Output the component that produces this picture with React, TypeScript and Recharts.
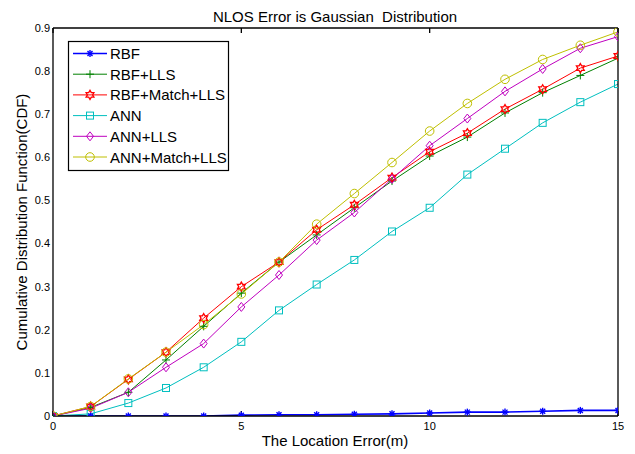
import React from 'react';
import { LineChart, Line, XAxis, YAxis } from 'recharts';

const errors = [0, 1, 2, 3, 4, 5, 6, 7, 8, 9, 10, 11, 12, 13, 14, 15];
const rbf = [0, 0, 0, 0, 0, 0.002, 0.003, 0.003, 0.004, 0.005, 0.007, 0.009, 0.009, 0.011, 0.013, 0.013];
const rbfLls = [0, 0.02, 0.055, 0.13, 0.208, 0.285, 0.357, 0.42, 0.483, 0.545, 0.603, 0.647, 0.703, 0.75, 0.79, 0.83];
const rbfMatchLls = [0, 0.022, 0.085, 0.148, 0.227, 0.3, 0.357, 0.432, 0.49, 0.553, 0.613, 0.656, 0.712, 0.758, 0.807, 0.835];
const ann = [0, 0.005, 0.03, 0.065, 0.113, 0.172, 0.245, 0.305, 0.362, 0.428, 0.483, 0.56, 0.62, 0.68, 0.728, 0.77];
const annLls = [0, 0.018, 0.055, 0.113, 0.168, 0.253, 0.327, 0.408, 0.472, 0.55, 0.627, 0.69, 0.753, 0.805, 0.853, 0.88];
const annMatchLls = [0, 0.022, 0.086, 0.148, 0.212, 0.283, 0.357, 0.445, 0.516, 0.588, 0.661, 0.725, 0.781, 0.827, 0.86, 0.891];

const xTicks = [0, 5, 10, 15];
const yTicks = [0, 0.1, 0.2, 0.3, 0.4, 0.5, 0.6, 0.7, 0.8, 0.9];

const series = [
  { key: 'RBF', values: rbf, color: '#0000ff', marker: 'star', width: 1.6 },
  { key: 'RBF+LLS', values: rbfLls, color: '#008000', marker: 'plus', width: 1 },
  { key: 'RBF+Match+LLS', values: rbfMatchLls, color: '#ff0000', marker: 'hexagram', width: 1 },
  { key: 'ANN', values: ann, color: '#00bfbf', marker: 'square', width: 1 },
  { key: 'ANN+LLS', values: annLls, color: '#bf00bf', marker: 'diamond', width: 1 },
  { key: 'ANN+Match+LLS', values: annMatchLls, color: '#bfbf00', marker: 'circle', width: 1 },
];

const data = errors.map((e, i) => {
  const row: Record<string, number> = { e };
  series.forEach((s) => {
    row[s.key] = s.values[i];
  });
  return row;
});

const FONT = '"Liberation Sans", Arial, Helvetica, sans-serif';
const AXIS = { stroke: '#000', strokeWidth: 1.3 };

function Marker({ kind, x, y, color }: { kind: string; x: number; y: number; color: string }) {
  const p = { stroke: color, fill: 'none', strokeWidth: 1 };
  switch (kind) {
    case 'star':
      return (
        <g {...p} strokeWidth={1.4}>
          <line x1={x - 3.5} y1={y} x2={x + 3.5} y2={y} />
          <line x1={x} y1={y - 3.5} x2={x} y2={y + 3.5} />
          <line x1={x - 2.5} y1={y - 2.5} x2={x + 2.5} y2={y + 2.5} />
          <line x1={x - 2.5} y1={y + 2.5} x2={x + 2.5} y2={y - 2.5} />
        </g>
      );
    case 'plus':
      return (
        <g {...p}>
          <line x1={x - 4} y1={y} x2={x + 4} y2={y} />
          <line x1={x} y1={y - 4} x2={x} y2={y + 4} />
        </g>
      );
    case 'hexagram': {
      const pts: string[] = [];
      for (let k = 0; k < 12; k++) {
        const r = k % 2 === 0 ? 4.5 : 2.6;
        const a = (Math.PI / 6) * k - Math.PI / 2;
        pts.push(`${x + r * Math.cos(a)},${y + r * Math.sin(a)}`);
      }
      return <polygon points={pts.join(' ')} {...p} strokeWidth={1.3} />;
    }
    case 'square':
      return <rect x={x - 3.5} y={y - 3.5} width={7} height={7} {...p} />;
    case 'diamond':
      return <polygon points={`${x},${y - 4.5} ${x + 3.5},${y} ${x},${y + 4.5} ${x - 3.5},${y}`} {...p} />;
    default:
      return <circle cx={x} cy={y} r={4.3} {...p} />;
  }
}

function LegendBox() {
  return (
    <g transform="translate(68,41)">
      <rect x={0.5} y={0.5} width={160} height={129} fill="#fff" stroke="#000" strokeWidth={1.2} />
      {series.map((s, i) => {
        const y = 12.5 + i * 20.7;
        return (
          <g key={s.key}>
            <line x1={5} y1={y} x2={39} y2={y} stroke={s.color} strokeWidth={s.width} />
            <Marker kind={s.marker} x={22} y={y} color={s.color} />
            <text x={42} y={y + 5.5} fontSize={15} fontFamily={FONT} fill="#000">
              {s.key}
            </text>
          </g>
        );
      })}
    </g>
  );
}

const noLabel = () => '';

export default function App() {
  return (
    <div style={{ position: 'absolute', left: 0, top: 0, width: 635, height: 454, background: '#fff' }}>
      <LineChart width={635} height={454} data={data} margin={{ top: 28, right: 17, bottom: 0, left: 0 }}>
        <text x={335} y={22} textAnchor="middle" fontSize={15} fontFamily={FONT} fill="#000">
          {'NLOS Error is Gaussian\u00a0 Distribution'}
        </text>
        <text
          x={0}
          y={0}
          transform="translate(27,222) rotate(-90)"
          textAnchor="middle"
          fontSize={15}
          fontFamily={FONT}
          fill="#000"
        >
          Cumulative Distribution Function(CDF)
        </text>
        <text x={335} y={446} textAnchor="middle" fontSize={15} fontFamily={FONT} fill="#000">
          The Location Error(m)
        </text>
        <XAxis
          dataKey="e"
          type="number"
          domain={[0, 15]}
          ticks={xTicks}
          height={38}
          axisLine={AXIS}
          tickLine={false}
          tickSize={0}
          tickMargin={6}
          tick={{ fontSize: 11, fontFamily: FONT, fill: '#000' }}
          allowDataOverflow
        />
        <XAxis
          xAxisId="bm"
          dataKey="e"
          type="number"
          orientation="bottom"
          mirror
          domain={[0, 15]}
          ticks={xTicks}
          axisLine={false}
          tickLine={AXIS}
          tickSize={5}
          tickFormatter={noLabel}
        />
        <XAxis
          xAxisId="top"
          dataKey="e"
          type="number"
          orientation="top"
          mirror
          domain={[0, 15]}
          ticks={xTicks}
          axisLine={AXIS}
          tickLine={AXIS}
          tickSize={5}
          tickFormatter={noLabel}
        />
        <YAxis
          type="number"
          domain={[0, 0.9]}
          ticks={yTicks}
          width={53}
          axisLine={AXIS}
          tickLine={false}
          tickSize={0}
          tickMargin={3}
          tick={{ fontSize: 11, fontFamily: FONT, fill: '#000' }}
          allowDataOverflow
        />
        <YAxis
          yAxisId="lm"
          type="number"
          orientation="left"
          mirror
          domain={[0, 0.9]}
          ticks={yTicks}
          axisLine={false}
          tickLine={AXIS}
          tickSize={5}
          tickFormatter={noLabel}
        />
        <YAxis
          yAxisId="right"
          type="number"
          orientation="right"
          mirror
          domain={[0, 0.9]}
          ticks={yTicks}
          axisLine={AXIS}
          tickLine={AXIS}
          tickSize={5}
          tickFormatter={noLabel}
        />
        {series.map((s) => (
          <Line
            key={s.key}
            type="linear"
            dataKey={s.key}
            stroke={s.color}
            strokeWidth={s.width}
            isAnimationActive={false}
            dot={(props: any) => (
              <Marker key={`${s.key}-${props.index}`} kind={s.marker} x={props.cx} y={props.cy} color={s.color} />
            )}
            activeDot={false}
          />
        ))}
        <LegendBox />
      </LineChart>
    </div>
  );
}
